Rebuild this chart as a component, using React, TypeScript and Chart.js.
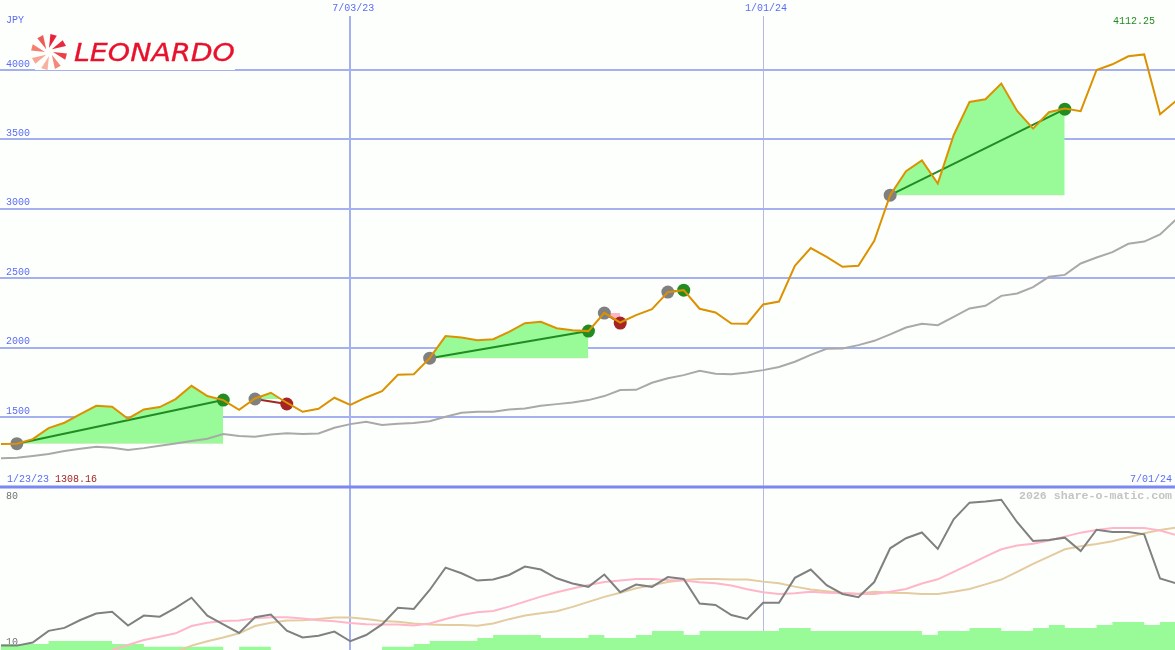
import { useEffect, useRef } from "react";
import Chart from "chart.js/auto";

// weekly closes, left edge is index 0
const PRICE = [
  1305, 1308, 1341, 1420, 1459, 1521, 1581, 1574, 1488, 1555,
  1572, 1629, 1725, 1651, 1622, 1552, 1634, 1675, 1603, 1538,
  1560, 1639, 1588, 1641, 1687, 1804, 1809, 1924, 2083, 2073,
  2054, 2061, 2114, 2176, 2186, 2140, 2126, 2119, 2251, 2181,
  2234, 2277, 2400, 2414, 2280, 2253, 2174, 2172, 2311, 2332,
  2590, 2717, 2654, 2582, 2589, 2769, 3098, 3271, 3348, 3182,
  3530, 3770, 3789, 3902, 3705, 3578, 3696, 3722, 3703, 4000,
  4041, 4099, 4112, 3681, 3777,
];
const AVERAGE = [
  1204, 1207, 1219, 1233, 1255, 1272, 1286, 1279, 1262, 1276,
  1293, 1310, 1327, 1344, 1377, 1363, 1358, 1375, 1384, 1377,
  1382, 1423, 1449, 1466, 1442, 1452, 1457, 1470, 1502, 1531,
  1538, 1538, 1555, 1562, 1581, 1593, 1605, 1622, 1651, 1694,
  1696, 1747, 1780, 1802, 1833, 1812, 1809, 1821, 1838, 1860,
  1898, 1948, 1992, 1994, 2018, 2049, 2095, 2145, 2172, 2162,
  2222, 2282, 2301, 2373, 2390, 2436, 2510, 2524, 2606, 2649,
  2688, 2748, 2764, 2815, 2923,
];
const RSI = [
  11.1, 11.1, 12.6, 18.2, 19.6, 23.4, 26.5, 27.3, 20.7, 25.5,
  25.0, 29.2, 34.1, 25.5, 21.3, 17.2, 24.7, 26.0, 18.3, 15.0,
  15.8, 17.8, 13.2, 16.2, 21.3, 29.3, 28.7, 37.8, 48.5, 45.8,
  42.3, 42.8, 45.0, 49.0, 47.6, 43.4, 40.9, 39.3, 45.2, 36.7,
  40.4, 39.3, 44.0, 43.1, 31.3, 30.6, 25.8, 23.9, 31.7, 31.7,
  43.6, 47.6, 40.1, 35.9, 34.3, 41.6, 57.8, 62.6, 65.4, 57.5,
  71.7, 79.7, 80.2, 81.1, 70.3, 61.3, 61.8, 62.9, 56.5, 66.7,
  65.6, 65.6, 64.5, 43.3, 41.0,
];
const RSI_FAST = [
  null, null, null, null, null, null, null, 9.0, 11.4, 13.8,
  15.4, 17.0, 20.5, 22.1, 22.9, 23.1, 24.2, 24.7, 24.7, 24.1,
  23.3, 22.8, 22.0, 21.4, 21.2, 21.2, 20.7, 21.7, 23.9, 25.8,
  27.1, 27.7, 29.8, 32.2, 34.6, 36.7, 38.5, 40.2, 41.6, 42.3,
  43.1, 43.1, 42.6, 42.3, 41.5, 41.0, 39.9, 38.1, 36.7, 35.9,
  36.2, 37.0, 36.5, 36.2, 35.9, 35.9, 36.9, 38.3, 40.9, 42.9,
  46.5, 50.1, 53.8, 57.3, 59.1, 60.0, 61.5, 63.4, 65.3, 66.6,
  67.5, 67.5, 67.5, 66.3, 64.2,
];
const RSI_SLOW = [
  null, null, null, null, null, null, null, null, null, null,
  null, 8.0, 11.1, 13.2, 15.0, 17.0, 20.5, 22.1, 23.1, 23.3,
  23.9, 24.6, 24.6, 23.9, 22.9, 22.5, 21.7, 21.2, 21.0, 21.0,
  20.6, 21.7, 23.8, 25.5, 26.6, 27.6, 29.7, 32.1, 34.5, 36.5,
  38.6, 40.0, 41.6, 42.6, 43.1, 43.1, 42.8, 42.8, 41.8, 41.0,
  39.4, 38.0, 37.2, 36.4, 36.0, 36.9, 36.5, 36.4, 35.9, 35.9,
  36.9, 38.3, 40.5, 42.8, 46.5, 50.3, 53.8, 57.3, 58.8, 59.9,
  61.2, 63.1, 65.0, 66.6, 67.7,
];
const VOLUME = [
  11.9, 11.9, 11.9, 13.3, 13.3, 13.3, 13.3, 11.9, 11.9, 10.5,
  10.5, 10.5, 10.5, 10.5, 9, 10.5, 10.5, 9, 9, 9,
  9, 9, 9, 9, 10.5, 10.5, 11.9, 13.3, 13.3, 13.3,
  14.8, 16.2, 16.2, 16.2, 14.8, 14.8, 14.8, 16.2, 14.8, 14.8,
  16.2, 18.1, 18.1, 16.2, 18.1, 18.1, 18.1, 18.1, 18.1, 19.6,
  19.6, 18.1, 18.1, 18.1, 18.1, 18.1, 18.1, 18.1, 16.2, 18.1,
  18.1, 19.6, 19.6, 18.1, 18.1, 19.6, 21, 19.6, 19.6, 21,
  22.4, 22.4, 21, 22.4, 22.4,
];

// signals: where each one opens and closes
const ENTRY_WEEK = [1, 16, 27, 38, 42, 56];
const EXIT_WEEK = [14, 18, 37, 39, 43, 67];
const ENTRY_PRICE = [1308, 1630, 1924, 2249, 2400, 3098];
const EXIT_PRICE = [1622, 1594, 2119, 2177, 2414, 3718];

const PRICE_TICKS = [1500, 2000, 2500, 3000, 3500, 4000];
const RSI_TICKS = [10, 80];
const DATE_WEEKS = [22, 48];
const DATE_LABELS = ["7/03/23", "1/01/24"];

const MONO = "'Liberation Mono', monospace";
const BLUE_TEXT = "#5a6cf6";
const GRID = "#a5b0f0";
const GREEN = "#228b22";
const RED = "#a52424";
const LOGO_RED = "#e8122d";
const BLADE_COLORS = ["#e8233a", "#e82a3c", "#ec4048", "#f4887a", "#f9b0a0", "#f9a494", "#f47e70", "#ee5a58"];

const series = (values: (number | null)[]) => values.map((y, x) => ({ x, y }));

const line = (data: object[], color: string, order: number, yAxisID = "y") => ({
  data,
  yAxisID,
  order,
  borderColor: color,
  borderWidth: 2,
  pointRadius: 0,
  tension: 0,
  fill: false,
});

function tradeDatasets() {
  return ENTRY_WEEK.flatMap((entry, i) => {
    const exit = EXIT_WEEK[i];
    const won = EXIT_PRICE[i] > ENTRY_PRICE[i];
    const area = series(PRICE)
      .slice(entry, exit + 1)
      .map((p, k) => (k === 0 ? { x: p.x, y: ENTRY_PRICE[i] } : p));
    return [
      {
        ...line(area, "transparent", 5),
        borderWidth: 0,
        fill: { target: { value: ENTRY_PRICE[i] }, above: "#98fb98", below: "#ffb6c1" },
      },
      {
        ...line(
          [
            { x: entry, y: ENTRY_PRICE[i] },
            { x: exit, y: EXIT_PRICE[i] },
          ],
          won ? GREEN : RED,
          2
        ),
        pointRadius: 6.5,
        pointBorderWidth: 0,
        pointBackgroundColor: ["#808080", won ? GREEN : RED],
      },
    ];
  });
}

function drawLogo(ctx: CanvasRenderingContext2D) {
  ctx.save();
  ctx.fillStyle = "#fdfffd";
  ctx.fillRect(35, 33, 200, 37);

  // pinwheel
  const cx = 49;
  const cy = 52;
  BLADE_COLORS.forEach((color, i) => {
    const a = -Math.PI / 2 + (i * Math.PI) / 4;
    ctx.fillStyle = color;
    ctx.beginPath();
    ctx.moveTo(cx + 4 * Math.cos(a), cy + 4 * Math.sin(a));
    ctx.lineTo(cx + 18 * Math.cos(a + 0.08), cy + 18 * Math.sin(a + 0.08));
    ctx.lineTo(cx + 18 * Math.cos(a + 0.45), cy + 18 * Math.sin(a + 0.45));
    ctx.closePath();
    ctx.fill();
  });

  ctx.fillStyle = LOGO_RED;
  ctx.strokeStyle = LOGO_RED;
  ctx.lineWidth = 0.3;
  ctx.font = "italic 25px 'DejaVu Sans'";
  ctx.textBaseline = "alphabetic";
  ctx.textAlign = "left";
  const w = ctx.measureText("LEONARDO").width;
  ctx.translate(74, 61);
  ctx.scale(161 / w, 1);
  ctx.fillText("LEONARDO", 0, 0);
  ctx.strokeText("LEONARDO", 0, 0);
  ctx.restore();
}

const panesPlugin = {
  id: "panes",
  beforeDatasetsDraw(chart: any) {
    const { ctx, chartArea, scales } = chart;
    ctx.save();
    ctx.strokeStyle = "#7a88f0";
    ctx.lineWidth = 3;
    ctx.beginPath();
    ctx.moveTo(chartArea.left, scales.y.bottom);
    ctx.lineTo(chartArea.right, scales.y.bottom);
    ctx.stroke();
    ctx.restore();
    drawLogo(ctx);
  },
  afterDraw(chart: any) {
    const { ctx, scales } = chart;
    const text = (s: string, x: number, y: number, color: string, font = `10px ${MONO}`) => {
      ctx.fillStyle = color;
      ctx.font = font;
      ctx.fillText(s, x, y);
    };
    ctx.save();
    ctx.textBaseline = "middle";
    ctx.textAlign = "left";
    text("JPY", 6, 20, BLUE_TEXT);
    text("1/23/23", 7, 479, BLUE_TEXT);
    text("1308.16", 55, 479, RED);
    text("7/01/24", 1130, 479, BLUE_TEXT);
    text("4112.25", 1113, 21, GREEN);
    text("2026 share-o-matic.com", 1019, 496, "#c4c4c4", `bold 11.6px ${MONO}`);
    ctx.textAlign = "center";
    DATE_WEEKS.forEach((week, i) => {
      text(DATE_LABELS[i], scales.x.getPixelForValue(week) + 3, 8, BLUE_TEXT);
    });
    ctx.restore();
  },
};

// mirrored labels sit inside the plot, so the pane axes take no room of their own
const flatAxis = (scale: any) => {
  scale.width = 0;
  scale.paddingTop = 0;
  scale.paddingBottom = 0;
};

export default function App() {
  const canvasRef = useRef<HTMLCanvasElement | null>(null);

  useEffect(() => {
    document.body.style.margin = "0";
    if (!canvasRef.current) return;
    const chart = new Chart(canvasRef.current, {
      type: "line",
      data: {
        datasets: [
          line(series(PRICE), "#dc9200", 1),
          ...tradeDatasets(),
          line(series(AVERAGE), "#a9a9a9", 3),
          line(series(RSI), "#808080", 6, "y2"),
          line(series(RSI_FAST), "#ffb6c8", 7, "y2"),
          line(series(RSI_SLOW), "#e4cba0", 8, "y2"),
          {
            ...line(series(VOLUME), "transparent", 9, "y2"),
            borderWidth: 0,
            stepped: "before",
            fill: "start",
            backgroundColor: "#98fb98",
          },
        ] as any,
      },
      options: {
        animation: false,
        responsive: false,
        devicePixelRatio: 1,
        layout: { padding: { top: 16 }, autoPadding: false },
        plugins: { legend: { display: false }, tooltip: { enabled: false } },
        scales: {
          x: {
            type: "linear",
            min: -0.06,
            max: 73.94,
            border: { display: false },
            ticks: { display: false },
            afterFit: (scale: any) => {
              scale.height = 0;
            },
            afterBuildTicks: (scale: any) => {
              scale.ticks = DATE_WEEKS.map((value) => ({ value }));
            },
            grid: {
              drawTicks: false,
              color: (c: any) => (c.index === 0 ? GRID : "#b4bbdc"),
              lineWidth: (c: any) => (c.index === 0 ? 2 : 1),
            },
          },
          y2: {
            stack: "panes",
            stackWeight: 163,
            min: 9,
            max: 87.2,
            border: { display: false },
            afterFit: flatAxis,
            afterBuildTicks: (scale: any) => {
              scale.ticks = RSI_TICKS.map((value) => ({ value }));
            },
            grid: { display: false },
            ticks: {
              mirror: true,
              padding: 6,
              labelOffset: -6,
              color: "#707070",
              font: { family: MONO, size: 10 },
              callback: (v: any) => String(v),
            },
          },
          y: {
            stack: "panes",
            stackWeight: 471,
            min: 996,
            max: 4389,
            border: { display: false },
            afterFit: flatAxis,
            afterBuildTicks: (scale: any) => {
              scale.ticks = PRICE_TICKS.map((value) => ({ value }));
            },
            grid: { drawTicks: false, color: GRID, lineWidth: 2 },
            ticks: {
              mirror: true,
              padding: 6,
              labelOffset: -6,
              color: BLUE_TEXT,
              font: { family: MONO, size: 10 },
              callback: (v: any) => String(v),
            },
          },
        },
      },
      plugins: [panesPlugin],
    });
    return () => chart.destroy();
  }, []);

  return <canvas ref={canvasRef} width={1175} height={650} style={{ display: "block", background: "#fdfffd" }} />;
}
